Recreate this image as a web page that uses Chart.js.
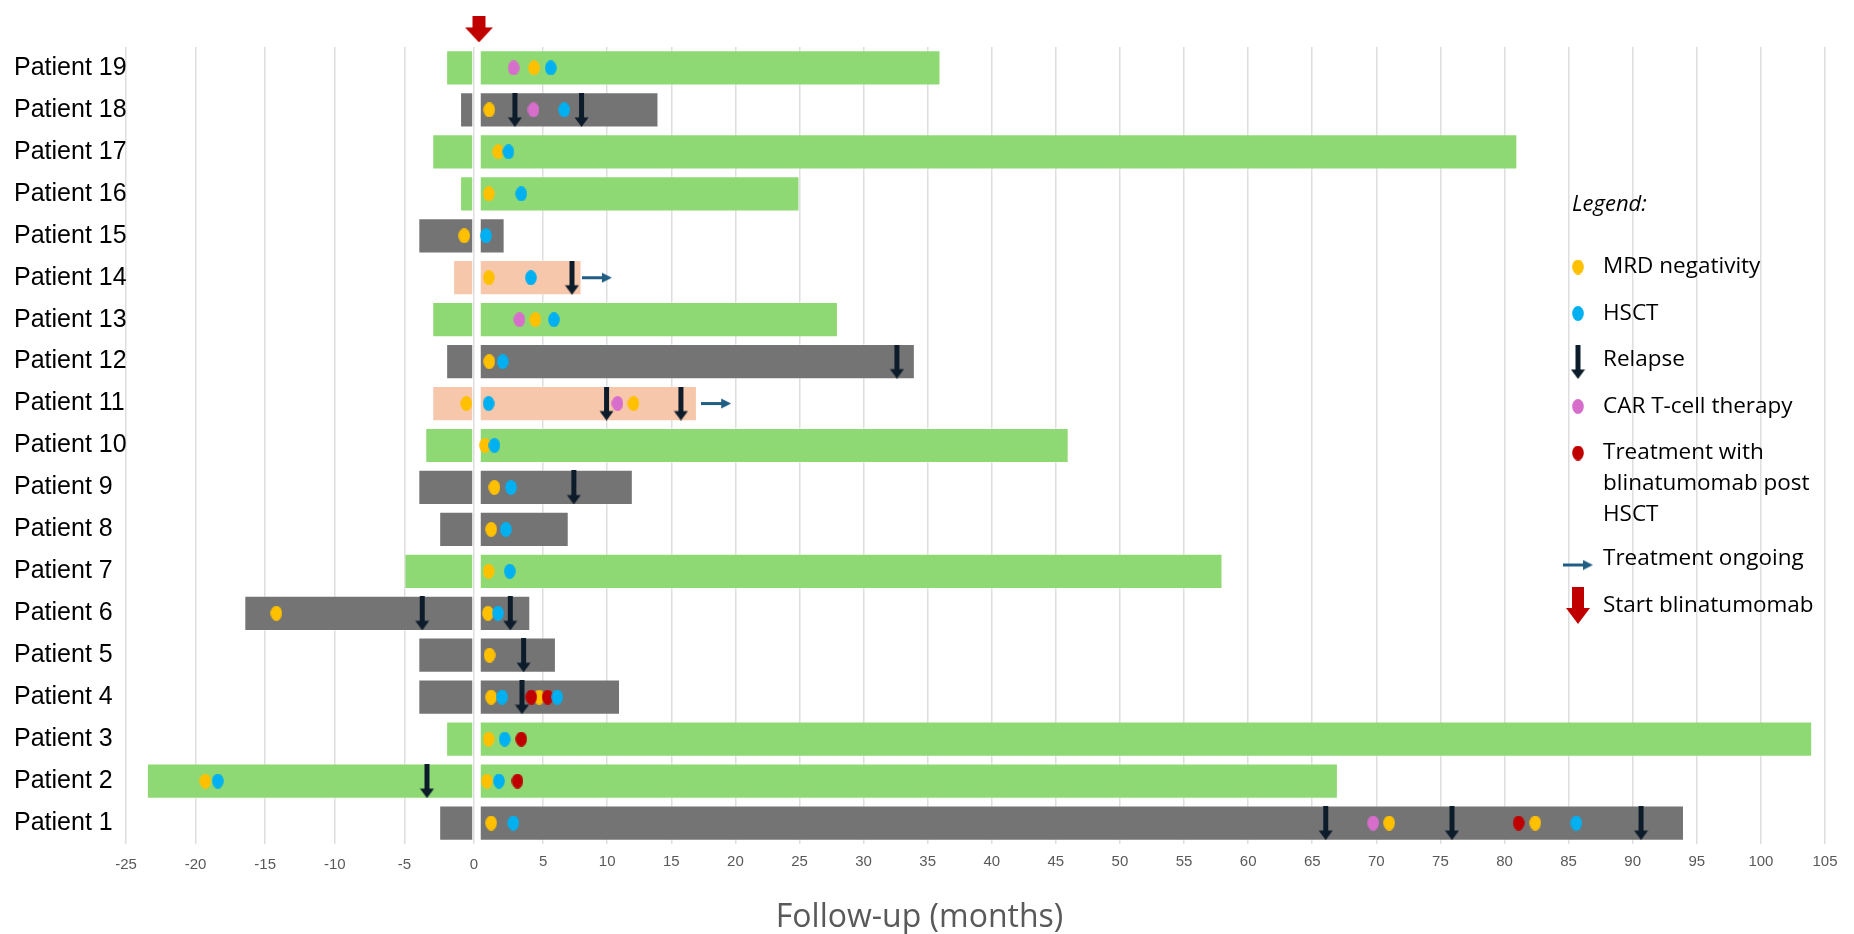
<!DOCTYPE html>
<html>
<head>
<meta charset="utf-8">
<title>Follow-up timeline</title>
<script src="https://cdn.jsdelivr.net/npm/chart.js@4.4.1/dist/chart.umd.min.js"></script>
<style>
  html, body { margin: 0; padding: 0; background: #ffffff; }
</style>
</head>
<body>
<canvas id="timelineChart" width="1854" height="934"></canvas>
<script>
// Patients, bottom to top
const patients = ["Patient 1", "Patient 2", "Patient 3", "Patient 4", "Patient 5", "Patient 6", "Patient 7",
    "Patient 8", "Patient 9", "Patient 10", "Patient 11", "Patient 12", "Patient 13", "Patient 14",
    "Patient 15", "Patient 16", "Patient 17", "Patient 18", "Patient 19"];

// Months before / after start of blinatumomab
const startBefore = [-2.5, -23.5, -2, -4, -4, -16.5, -5, -2.5, -4, -3.5, -3, -2, -3, -1.5, -4, -1, -3, -1, -2];
const endAfter = [94, 67, 104, 11, 6, 4, 58, 7, 12, 46, 17, 34, 28, 8, 2, 25, 81, 14, 36];
const responseGroup = ["gray", "green", "green", "gray", "gray", "gray", "green", "gray", "gray", "green",
    "peach", "gray", "green", "peach", "gray", "green", "green", "gray", "green"];

// Events: [patient number, month]
const mrdNegativity = [[19, 4.3], [18, 0.8], [17, 1.5], [16, 0.77], [15, -0.7], [14, 0.77], [13, 4.4],
    [12, 0.8], [11, -0.55], [11, 12.05], [10, 0.47], [9, 1.2], [8, 0.95], [7, 0.75], [6, -14.2], [6, 0.7],
    [5, 0.82], [4, 0.95], [4, 4.7], [3, 0.75], [2, -19.3], [2, 0.62], [1, 0.95], [1, 71.0], [1, 82.4]];
const hsct = [[19, 5.6], [18, 6.65], [17, 2.3], [16, 3.3], [15, 0.55], [14, 4.05], [13, 5.85], [12, 1.85],
    [11, 0.75], [10, 1.2], [9, 2.5], [8, 2.1], [7, 2.4], [6, 1.48], [4, 1.8], [4, 6.1], [3, 2.0],
    [2, -18.4], [2, 1.56], [1, 2.68], [1, 85.6]];
const carTCell = [[19, 2.7], [18, 4.25], [13, 3.15], [11, 10.8], [1, 69.75]];
const blinaPostHsct = [[4, 4.08], [4, 5.35], [3, 3.3], [2, 3.0], [1, 81.1]];
const relapse = [[18, 2.8], [18, 8.0], [14, 7.25], [12, 32.6], [11, 9.95], [11, 15.75], [9, 7.4],
    [6, -3.72], [6, 2.44], [5, 3.48], [4, 3.35], [2, -3.38], [1, 66.05], [1, 75.9], [1, 90.65]];
const treatmentOngoing = [[14, 9.2], [11, 18.5]];
const startBlina = [[19.92, 0]];

const xTicksBefore = [-25, -20, -15, -10, -5, 0];
const legendLabels = ["MRD negativity", "HSCT", "Relapse", "CAR T-cell therapy",
    ["Treatment with", "blinatumomab post", "HSCT"], "Treatment ongoing", "Start blinatumomab"];

// Colours
const groupColors = { green: "#8ed973", gray: "#747474", peach: "#f7c7ac" };

// Marker images
function makeDot(color) {
    const c = document.createElement("canvas");
    c.width = 12; c.height = 15;
    const g = c.getContext("2d");
    g.fillStyle = color;
    g.beginPath();
    g.ellipse(6, 7.5, 5.8, 7.4, 0, 0, Math.PI * 2);
    g.fill();
    return c;
}

function makeRelapseArrow() {
    const c = document.createElement("canvas");
    c.width = 15; c.height = 34;
    const g = c.getContext("2d");
    g.fillStyle = "#0d1c2b";
    g.fillRect(5, 0, 5, 26);
    g.beginPath();
    g.moveTo(0.5, 24.5); g.lineTo(14.5, 24.5); g.lineTo(7.5, 34);
    g.closePath();
    g.fill();
    return c;
}

function makeOngoingArrow() {
    const c = document.createElement("canvas");
    c.width = 30; c.height = 11;
    const g = c.getContext("2d");
    g.strokeStyle = "#215e84";
    g.fillStyle = "#215e84";
    g.lineWidth = 3;
    g.beginPath(); g.moveTo(0, 5.5); g.lineTo(22, 5.5); g.stroke();
    g.beginPath();
    g.moveTo(20, 0.5); g.lineTo(30, 5.5); g.lineTo(20, 10.5);
    g.closePath();
    g.fill();
    return c;
}

function makeStartArrow(w, h, shaftW, shaftH) {
    const c = document.createElement("canvas");
    c.width = w; c.height = h;
    const g = c.getContext("2d");
    g.fillStyle = "#c00000";
    g.fillRect((w - shaftW) / 2, 0, shaftW, shaftH + 1);
    g.beginPath();
    g.moveTo(0, shaftH); g.lineTo(w, shaftH); g.lineTo(w / 2, h);
    g.closePath();
    g.fill();
    return c;
}

const dotYellow = makeDot("#ffc000");
const dotBlue = makeDot("#00b0f0");
const dotPink = makeDot("#d86ecc");
const dotRed = makeDot("#c00000");
const relapseArrow = makeRelapseArrow();
const ongoingArrow = makeOngoingArrow();
const startArrow = makeStartArrow(28, 26, 13, 11);
const startArrowLegend = makeStartArrow(24, 37, 12, 21);

// Build datasets
function barPart(part) {
    return {
        type: "bar",
        indexAxis: "y",
        xAxisID: part === "before" ? "xn" : "xp",
        yAxisID: "y",
        data: patients.map((p, i) => ({
            y: i + 1,
            x: part === "before" ? [startBefore[i], 0] : [0, endAfter[i]]
        })),
        backgroundColor: responseGroup.map(g => groupColors[g]),
        borderColor: "rgba(255,255,255,0.35)",
        borderWidth: 1,
        borderSkipped: false,
        grouped: false,
        barPercentage: 0.84,
        categoryPercentage: 1,
        order: 20
    };
}

function markerSets(points, image, order) {
    const sets = [];
    [["xn", m => m < 0], ["xp", m => m >= 0]].forEach(([axisId, keep]) => {
        const pts = points.filter(([p, m]) => keep(m));
        if (!pts.length) return;
        sets.push({
            type: "scatter",
            indexAxis: "x",
            xAxisID: axisId,
            yAxisID: "y",
            data: pts.map(([p, m]) => ({ x: m, y: p })),
            pointStyle: image,
            pointRadius: 6,
            hoverRadius: 6,
            order: order
        });
    });
    return sets;
}

const datasets = [
    barPart("before"),
    barPart("after"),
    ...markerSets(mrdNegativity, dotYellow, 6),
    ...markerSets(carTCell, dotPink, 5),
    ...markerSets(blinaPostHsct, dotRed, 4),
    ...markerSets(hsct, dotBlue, 3),
    ...markerSets(relapse, relapseArrow, 2),
    ...markerSets(treatmentOngoing, ongoingArrow, 1),
    {
        type: "scatter",
        indexAxis: "x",
        xAxisID: "xp",
        yAxisID: "y",
        data: startBlina.map(([y, m]) => ({ x: m, y: y })),
        pointStyle: startArrow,
        pointRadius: 22,
        hoverRadius: 22,
        clip: false,
        order: 0
    }
];

// Side legend drawn over the plot
const legendIcons = [dotYellow, dotBlue, relapseArrow, dotPink, dotRed, ongoingArrow, startArrowLegend];
const sideLegend = {
    id: "sideLegend",
    afterDraw(chart) {
        const ctx = chart.ctx;
        ctx.save();
        ctx.fillStyle = "#000000";
        ctx.textBaseline = "middle";
        ctx.textAlign = "left";
        ctx.font = "italic 22px 'Open Sans'";
        ctx.fillText("Legend:", 1572, 205);
        ctx.font = "22.5px 'Open Sans'";
        let y = 267;
        legendLabels.forEach((label, i) => {
            const lines = [].concat(label);
            const icon = legendIcons[i];
            let dy = 0;
            if (icon === relapseArrow) dy = 2;
            if (icon === ongoingArrow) dy = 6;
            ctx.drawImage(icon, 1578 - icon.width / 2, y + dy - icon.height / 2);
            lines.forEach((line, k) => ctx.fillText(line, 1603, y + k * 31));
            y += (lines.length - 1) * 31 + (lines.length > 1 ? 44 : 46.5);
        });
        ctx.restore();
    }
};

const gridColor = "#dedede";
const tickFont = { family: "Liberation Sans", size: 15 };

const timelineChart = new Chart(document.getElementById("timelineChart"), {
    type: "bar",
    data: { datasets: datasets },
    options: {
        responsive: false,
        animation: false,
        events: [],
        layout: { padding: { left: 14, right: 29, top: 47, bottom: 0 } },
        plugins: {
            legend: { display: false },
            tooltip: { enabled: false },
            title: {
                display: true,
                text: "Follow-up (months)",
                position: "bottom",
                color: "#595959",
                font: { family: "Open Sans", size: 32, weight: "normal", lineHeight: 1 },
                padding: { top: 16, bottom: 0 }
            }
        },
        scales: {
            xn: {
                type: "linear",
                axis: "x",
                position: "bottom",
                stack: "followup",
                stackWeight: 353,
                offset: false,
                min: -25,
                max: 0.36,
                afterBuildTicks: s => { s.ticks = xTicksBefore.map(v => ({ value: v })); },
                ticks: { color: "#595959", font: tickFont, padding: 12, maxRotation: 0, autoSkip: false },
                grid: { color: gridColor, lineWidth: 1.5, drawTicks: false, offset: false },
                border: { display: false }
            },
            xp: {
                type: "linear",
                axis: "x",
                position: "bottom",
                stack: "followup",
                stackWeight: 1346,
                offset: false,
                min: 0,
                max: 105,
                ticks: {
                    stepSize: 5,
                    callback: v => (v === 0 ? "" : v),
                    color: "#595959", font: tickFont, padding: 9, maxRotation: 0, autoSkip: false
                },
                grid: {
                    color: c => (c.tick && c.tick.value === 0 ? "rgba(0,0,0,0)" : gridColor),
                    lineWidth: 1.5,
                    drawTicks: false,
                    offset: false
                },
                border: { display: false }
            },
            y: {
                type: "linear",
                axis: "y",
                position: "left",
                offset: false,
                min: 0.5,
                max: 19.5,
                afterBuildTicks: s => { s.ticks = patients.map((p, i) => ({ value: i + 1 })); },
                afterFit: s => { s.width = 112; },
                ticks: {
                    callback: v => patients[v - 1],
                    color: "#000000",
                    font: { family: "Liberation Sans", size: 25 },
                    crossAlign: "far",
                    autoSkip: false
                },
                grid: { display: false, offset: false },
                border: { display: false }
            }
        }
    },
    plugins: [sideLegend]
});
</script>
</body>
</html>
